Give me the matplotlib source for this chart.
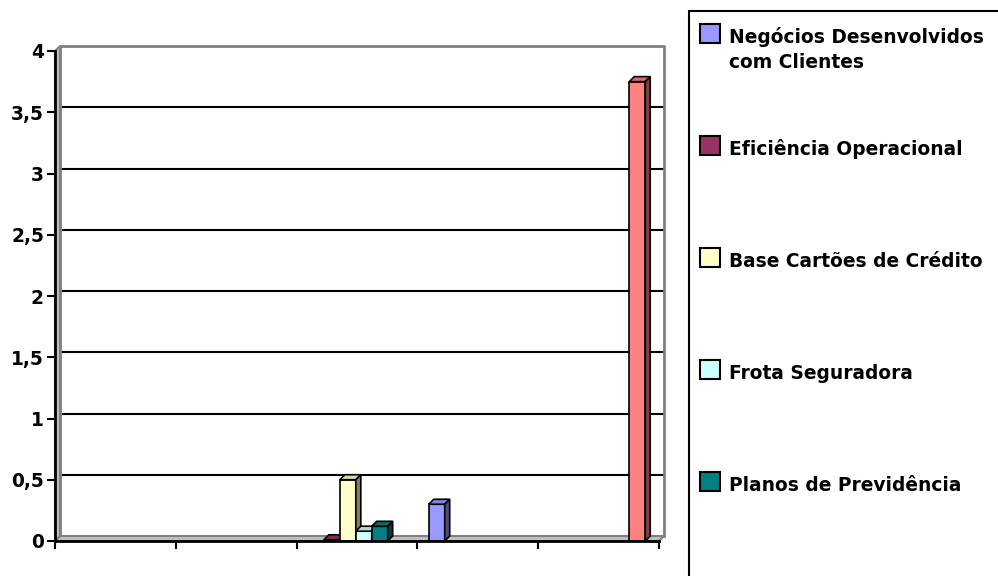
import numpy as np
import matplotlib.pyplot as plt
from matplotlib.patches import Polygon, Rectangle
from matplotlib import transforms

plt.rcParams['font.family'] = ['DejaVu Sans']
plt.rcParams['font.weight'] = 'bold'

W, H = 998, 576
nan = np.nan

# cinco categorias no eixo x (sem rótulos)
categorias = [1, 2, 3, 4, 5]

# valores por série
negocios = [nan, nan, nan, 0.30, nan]
eficiencia = [nan, nan, 0.01, nan, nan]
cartoes = [nan, nan, 0.50, nan, nan]
frota = [nan, nan, 0.08, nan, nan]
previdencia = [nan, nan, 0.12, nan, nan]
outros = [nan, nan, nan, nan, 3.75]

nomes = ['Negócios Desenvolvidos\ncom Clientes', 'Eficiência Operacional',
         'Base Cartões de Crédito', 'Frota Seguradora', 'Planos de Previdência']
cores = ['#9999FF', '#993366', '#FFFFCC', '#CCFFFF', '#008080', '#FF8080']
series = [negocios, eficiencia, cartoes, frota, previdencia, outros]

yticks = [0, 0.5, 1, 1.5, 2, 2.5, 3, 3.5, 4]
ylabels = ['0', '0,5', '1', '1,5', '2', '2,5', '3', '3,5', '4']

fig = plt.figure(figsize=(W / 100, H / 100), dpi=100)
ax = fig.add_axes([55 / W, 35 / H, 604 / W, 490 / H])
ax.set_xlim(0.5, 5.5)
ax.set_ylim(0, 4)

# profundidade do efeito 3D em pixels -> unidades de dados
dpx, dpy = 5, 5
ddx = dpx * 5.0 / 604
ddy = dpy * 4.0 / 490
fundo = transforms.offset_copy(ax.transData, fig=fig, x=dpx, y=dpy, units='dots')

# parede do fundo, grade e piso
cinza = '#808080'
for y in yticks[1:-1]:
    ax.plot([0.5, 5.5], [y, y], color='black', lw=1.5, transform=fundo, zorder=1, clip_on=False)
ax.plot([0.5, 0.5, 5.5, 5.5], [0, 4, 4, 0], color=cinza, lw=2, transform=fundo, zorder=1, clip_on=False)
ax.add_patch(Polygon([(0.5, 0), (5.5, 0), (5.5 + ddx, ddy), (0.5 + ddx, ddy)],
                     closed=True, facecolor='#c0c0c0', edgecolor=cinza, lw=1.5, zorder=1, clip_on=False))
ax.add_patch(Polygon([(0.5, 0), (0.5, 4), (0.5 + ddx, 4 + ddy), (0.5 + ddx, ddy)],
                     closed=True, facecolor='#c0c0c0', edgecolor=cinza, lw=1.5, zorder=1, clip_on=False))


def escurece(cor, f):
    r, g, b = plt.matplotlib.colors.to_rgb(cor)
    return (r * f, g * f, b * f)


# colunas 3D: frente, topo e lateral
w = 0.132
for i, (vals, cor) in enumerate(zip(series, cores)):
    for x, v in zip(categorias, vals):
        if np.isnan(v):
            continue
        x0 = x - 3 * w + i * w - 0.01
        x1 = x0 + w
        z = 3 + i
        ax.bar(x0, v, width=w, align='edge', color=cor, edgecolor='black', lw=1.2, zorder=z)
        ax.add_patch(Polygon([(x0, v), (x1, v), (x1 + ddx, v + ddy), (x0 + ddx, v + ddy)], closed=True,
                             facecolor=escurece(cor, 0.85), edgecolor='black', lw=1.2, zorder=z, clip_on=False))
        ax.add_patch(Polygon([(x1, 0), (x1, v), (x1 + ddx, v + ddy), (x1 + ddx, ddy)], closed=True,
                             facecolor=escurece(cor, 0.5), edgecolor='black', lw=1.2, zorder=z, clip_on=False))

# eixos
for s in ['top', 'right']:
    ax.spines[s].set_visible(False)
for s in ['left', 'bottom']:
    ax.spines[s].set_linewidth(2)
    ax.spines[s].set_zorder(20)
ax.set_yticks(yticks)
ax.set_yticklabels(ylabels, fontsize=13.4, fontweight='bold')
ax.set_xticks([0.5, 1.5, 2.5, 3.5, 4.5, 5.5])
ax.set_xticklabels([])
ax.tick_params(axis='both', direction='out', length=6, width=1.5, pad=2)

# legenda
fig.add_artist(Rectangle((689 / W, -0.1), 1, (H - 11) / H + 0.1, transform=fig.transFigure,
                         facecolor='white', edgecolor='black', lw=1.5))
for k, (nome, cor) in enumerate(zip(nomes, cores)):
    topo = 24 + 112 * k
    fig.add_artist(Rectangle((700 / W, 1 - (topo + 19) / H), 20 / W, 19 / H, transform=fig.transFigure,
                             facecolor=cor, edgecolor='black', lw=1.5))
    for j, linha in enumerate(nome.split('\n')):
        fig.text(729 / W, 1 - (topo + 19 + 25 * j) / H, linha, fontsize=13.4, fontweight='bold',
                 ha='left', va='baseline')

fig.savefig('out.png', dpi=100)
